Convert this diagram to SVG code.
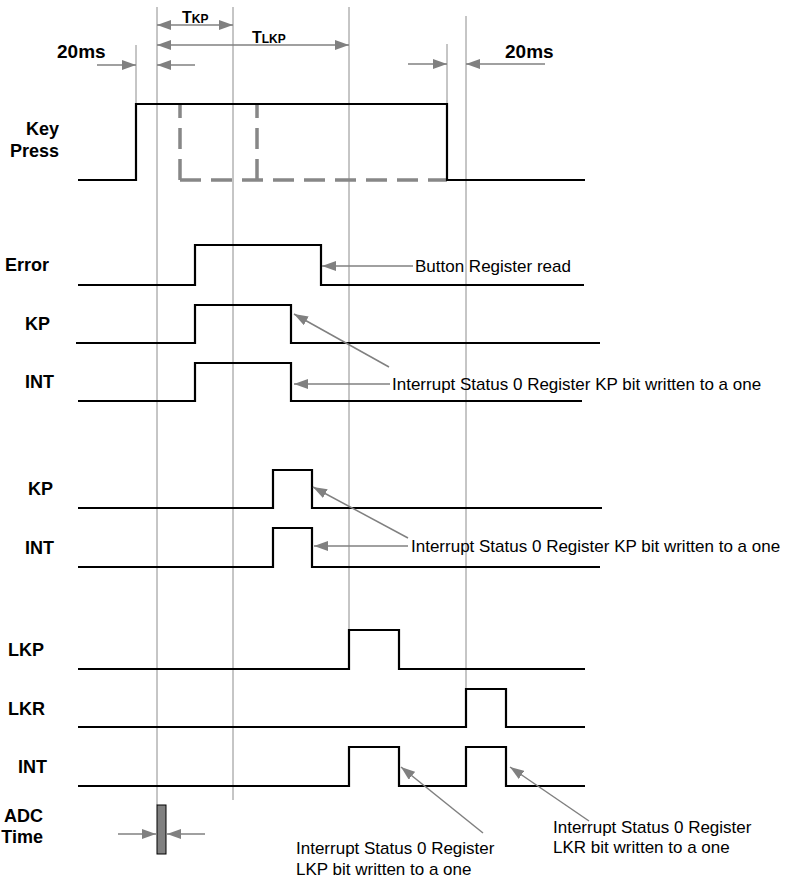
<svg xmlns="http://www.w3.org/2000/svg" width="789" height="880" viewBox="0 0 789 880">
<style>
.bg{fill:#ffffff}
.grid{stroke:#8c8c8c;stroke-width:1;fill:none}
.wave{stroke:#000;stroke-width:2.2;fill:none;stroke-linejoin:miter}
.dash{stroke:#878787;stroke-width:3.5;fill:none;stroke-dasharray:21 10}
.arr{stroke:#808080;stroke-width:1.5;fill:none}
.lbl{font-family:"Liberation Sans",Arial,sans-serif;font-weight:bold;font-size:18px;fill:#000}
.big{font-family:"Liberation Sans",Arial,sans-serif;font-weight:bold;font-size:19px;fill:#000}
.tl{font-family:"Liberation Sans",Arial,sans-serif;font-weight:bold;font-size:16px;fill:#000}
.ann{font-family:"Liberation Sans",Arial,sans-serif;font-size:17px;fill:#000}
</style>
<defs>
<marker id="ah" viewBox="0 0 14 10" refX="14" refY="5" markerWidth="14" markerHeight="10" markerUnits="userSpaceOnUse" orient="auto-start-reverse">
<path d="M0,0 L14,5 L0,10 z" fill="#808080"/>
</marker>
</defs>
<rect class="bg" x="0" y="0" width="789" height="880"/>

<g id="grid">
<line class="grid" x1="157" y1="7" x2="157" y2="805"/>
<line class="grid" x1="233" y1="7" x2="233" y2="800"/>
<line class="grid" x1="349" y1="7" x2="349" y2="630"/>
<line class="grid" x1="466" y1="16" x2="466" y2="689"/>
<line class="grid" x1="136" y1="45" x2="136" y2="104"/>
<line class="grid" x1="447" y1="44" x2="447" y2="104"/>
</g>

<g id="timing-labels">
<text class="tl" x="182" y="23">T<tspan font-size="12">KP</tspan></text>
<text class="tl" x="252" y="43">T<tspan font-size="12">LKP</tspan></text>
<text class="big" x="57" y="58">20ms</text>
<text class="big" x="505" y="58">20ms</text>
</g>

<g id="keypress">
<text class="lbl" x="59" y="135" text-anchor="end">Key</text>
<text class="lbl" x="59" y="157" text-anchor="end">Press</text>
<path class="dash" d="M180,180 V104"/>
<path class="dash" d="M180,180 H447"/>
<path class="dash" d="M257,180 V104"/>
<path class="wave" d="M78,180 H136 V104 H447 V180 H585"/>
</g>

<g id="error">
<text class="lbl" x="5" y="271">Error</text>
<path class="wave" d="M78,285 H195 V245 H321 V285 H584"/>
<text class="ann" x="415" y="272">Button Register read</text>
</g>

<g id="kp1">
<text class="lbl" x="25" y="330">KP</text>
<path class="wave" d="M76,343 H195 V305 H291 V343 H600"/>
</g>

<g id="int1">
<text class="lbl" x="25" y="388">INT</text>
<path class="wave" d="M78,401 H195 V363 H291 V401 H582"/>
<text class="ann" x="392" y="390">Interrupt Status 0 Register KP bit written to a one</text>
</g>

<g id="kp2">
<text class="lbl" x="28" y="495">KP</text>
<path class="wave" d="M78,508 H273 V470 H312 V508 H602"/>
</g>

<g id="int2">
<text class="lbl" x="25" y="554">INT</text>
<path class="wave" d="M78,567 H273 V528 H312 V567 H600"/>
<text class="ann" x="411" y="552">Interrupt Status 0 Register KP bit written to a one</text>
</g>

<g id="lkp">
<text class="lbl" x="8" y="656">LKP</text>
<path class="wave" d="M78,669 H349 V630 H399 V669 H585"/>
</g>

<g id="lkr">
<text class="lbl" x="8" y="715">LKR</text>
<path class="wave" d="M78,727 H466 V689 H506 V727 H585"/>
</g>

<g id="int3">
<text class="lbl" x="18" y="773">INT</text>
<path class="wave" d="M78,786 H349 V747 H399 V786 H466 V747 H506 V786 H585"/>
<text class="ann" x="296" y="854">Interrupt Status 0 Register</text>
<text class="ann" x="296" y="875">LKP bit written to a one</text>
<text class="ann" x="553" y="833">Interrupt Status 0 Register</text>
<text class="ann" x="553" y="853">LKR bit written to a one</text>
</g>

<g id="adc">
<text class="lbl" x="43" y="822" text-anchor="end">ADC</text>
<text class="lbl" x="43" y="843" text-anchor="end">Time</text>
<rect x="157" y="805" width="9" height="49" fill="#808080" stroke="#000" stroke-width="1"/>
</g>

<g id="connectors">
<line class="arr" x1="157" y1="25" x2="233" y2="25" marker-start="url(#ah)" marker-end="url(#ah)"/>
<line class="arr" x1="157" y1="45" x2="349" y2="45" marker-start="url(#ah)" marker-end="url(#ah)"/>
<line class="arr" x1="97" y1="65" x2="136" y2="65" marker-end="url(#ah)"/>
<line class="arr" x1="195" y1="65" x2="157" y2="65" marker-end="url(#ah)"/>
<line class="arr" x1="408" y1="64" x2="447" y2="64" marker-end="url(#ah)"/>
<line class="arr" x1="545" y1="64" x2="466" y2="64" marker-end="url(#ah)"/>
<line class="arr" x1="413" y1="266" x2="322" y2="266" marker-end="url(#ah)"/>
<line class="arr" x1="389" y1="367" x2="294" y2="314" marker-end="url(#ah)"/>
<line class="arr" x1="390" y1="384" x2="294" y2="384" marker-end="url(#ah)"/>
<line class="arr" x1="408" y1="538" x2="313" y2="487" marker-end="url(#ah)"/>
<line class="arr" x1="408" y1="546" x2="314" y2="546" marker-end="url(#ah)"/>
<line class="arr" x1="483" y1="833" x2="401" y2="767" marker-end="url(#ah)"/>
<line class="arr" x1="589" y1="821" x2="510" y2="767" marker-end="url(#ah)"/>
<line class="arr" x1="118" y1="834" x2="156" y2="834" marker-end="url(#ah)"/>
<line class="arr" x1="205" y1="834" x2="167" y2="834" marker-end="url(#ah)"/>
</g>
</svg>
